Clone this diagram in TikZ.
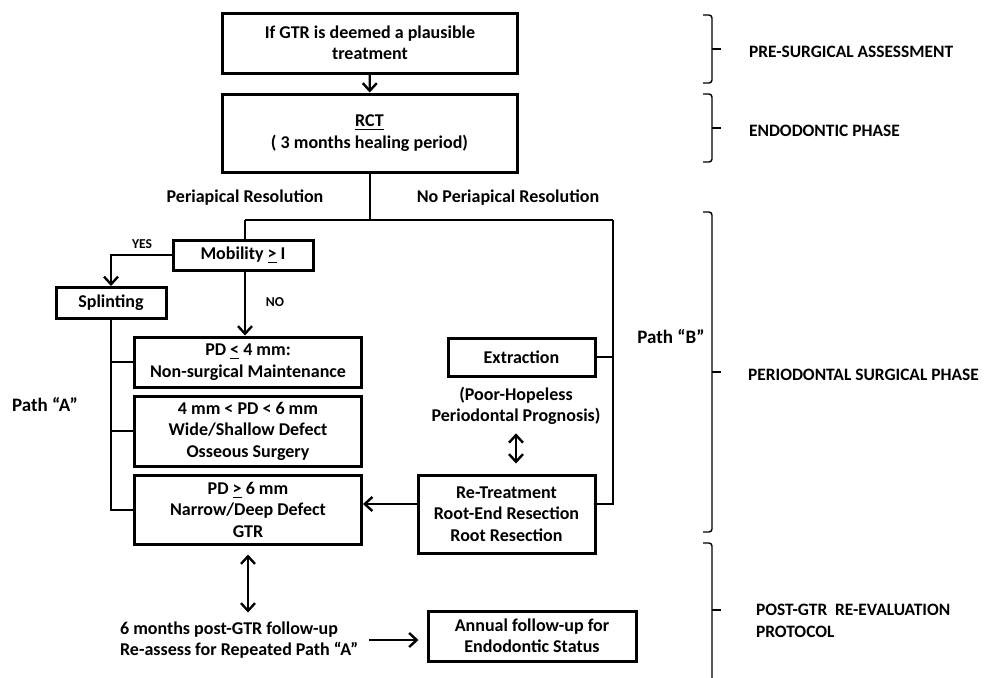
\documentclass[tikz,border=0pt]{standalone}
\usepackage{fontspec}
\setmainfont{Carlito}
\usetikzlibrary{arrows.meta}

\begin{document}
\begin{tikzpicture}[x=0.5pt,y=-0.5pt,
  every node/.style={font=\fontsize{9}{10.7}\selectfont\bfseries, align=center},
  box/.style={draw, line width=1.5pt, inner sep=0pt},
  line/.style={line width=1pt},
  arr/.style={line width=1.1pt, -{Straight Barb[length=3.8pt,width=7pt,line width=1.2pt]}},
  darr/.style={line width=1.1pt, {Straight Barb[length=3.8pt,width=7pt,line width=1.2pt]}-{Straight Barb[length=3.8pt,width=7pt,line width=1.2pt]}},
  small/.style={font=\fontsize{6.8}{8}\selectfont\bfseries},
  big/.style={font=\fontsize{9.5}{11}\selectfont\bfseries},
  phasetext/.style={anchor=west, align=left, font=\fontsize{8.7}{10.7}\selectfont\bfseries},
  phase/.style={line width=0.7pt, rounded corners=1.5pt}]
\useasboundingbox (0,0) rectangle (984,677);

% endodontic part
\node[box, minimum width=147.5pt, minimum height=30pt] (plaus) at (370,43) {If GTR is deemed a plausible\\treatment};
\node[box, minimum width=147.5pt, minimum height=39pt] (rct) at (369.5,133) {\underline{RCT}\\( 3 months healing period)};
\node (res) at (245,198) {Periapical Resolution};
\node (nores) at (508,198) {No Periapical Resolution};

% path A
\node[box, minimum width=70pt, minimum height=15pt] (mob) at (243,255) {Mobility \underline{>} I};
\node[small] (yes) at (142,244) {YES};
\node[small] (no) at (275,302) {NO};
\node[box, minimum width=55pt, minimum height=15.5pt] (splint) at (111,303) {Splinting};
\node[box, minimum width=113.5pt, minimum height=25pt] (pdlow) at (248,362) {PD \underline{<} 4 mm:\\Non-surgical Maintenance};
\node[box, minimum width=113.5pt, minimum height=35pt] (pdmid) at (248,431) {4 mm < PD < 6 mm\\Wide/Shallow Defect\\Osseous Surgery};
\node[box, minimum width=113.5pt, minimum height=34.5pt] (pdhigh) at (248,509.5) {PD \underline{>} 6 mm\\Narrow/Deep Defect\\GTR};
\node[big] (patha) at (45,405) {Path “A”};

% path B
\node[box, minimum width=73.5pt, minimum height=19pt] (extr) at (521.5,357) {Extraction};
\node[inner sep=0pt] (poor) at (516,406) {(Poor-Hopeless\\Periodontal Prognosis)};
\node[box, minimum width=88.5pt, minimum height=39pt] (retr) at (506.5,514) {Re-Treatment\\Root-End Resection\\Root Resection};
\node[big] (pathb) at (671,337) {Path “B”};

% follow-up
\node[anchor=west, align=left] (follow) at (113,640) {6 months post-GTR follow-up\\Re-assess for Repeated Path “A”};
\node[box, minimum width=104pt, minimum height=25pt] (annual) at (532,636) {Annual follow-up for\\Endodontic Status};

% phases
\node[phasetext] (pre) at (742,52) {PRE-SURGICAL ASSESSMENT};
\node[phasetext] (endo) at (742,131) {ENDODONTIC PHASE};
\node[phasetext] (perio) at (741,375) {PERIODONTAL SURGICAL PHASE};
\node[phasetext] (post) at (749,621) {POST-GTR~~RE-EVALUATION\\PROTOCOL};

\coordinate (fork) at (369.5,220);
\coordinate (lfork) at (245,220);
\coordinate (rfork) at (613,220);

\draw[arr] (plaus) -- (rct);
\draw[line] (rct) -- (fork);
\draw[line] (lfork) -- (rfork);
\draw[line] (lfork) -- (lfork |- mob.north);
\draw[arr] (lfork |- mob.south) -- (lfork |- pdlow.north);
\draw[arr] (mob.west) -| (splint.north);
\draw[line] (splint.south) |- (pdhigh.west);
\draw[line] (pdlow.west) -- (pdlow.west -| splint.south);
\draw[line] (pdmid.west) -- (pdmid.west -| splint.south);

\draw[line] (rfork) |- ([yshift=5pt]retr.east);
\draw[line] (extr.east) -- (extr.east -| rfork);
\draw[arr] ([yshift=5pt]retr.west) -- ([yshift=5pt]retr.west -| pdhigh.east);
\draw[darr, shorten <=4pt, shorten >=5pt] (poor.south) -- (poor.south |- retr.north);
\draw[darr, shorten <=4.5pt, shorten >=1pt] (pdhigh.south) -- (pdhigh.south |- follow.north);
\draw[arr, shorten <=2pt, shorten >=4pt] (follow.east) -- (follow.east -| annual.west);

% brackets on the right
\foreach \ya/\yb/\ym in {15/83/49, 94/162/128, 212/532/372, 543/690/610}{
  \draw[phase] (703,\ya) -| (712,\yb) -- (703,\yb);
  \draw[line] (712,\ym) -- (721,\ym);
}
\end{tikzpicture}
\end{document}
